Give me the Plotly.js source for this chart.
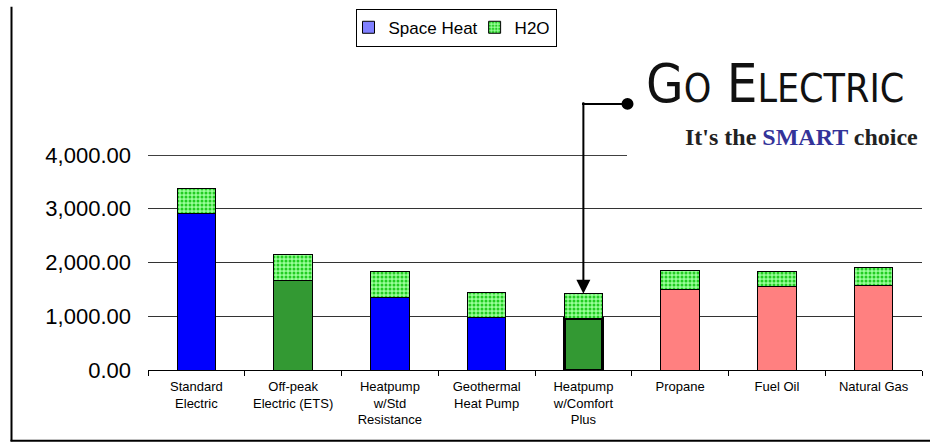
<!DOCTYPE html>
<html>
<head>
<meta charset="utf-8">
<script src="https://cdn.plot.ly/plotly-3.0.1.min.js"></script>
<style>html,body{margin:0;padding:0;background:#fff;}#chart{width:930px;height:444px;}</style>
</head>
<body>
<div id="chart"></div>
<script>
// ---- data ----
var categories = [
  "Standard<br>Electric",
  "Off-peak<br>Electric (ETS)",
  "Heatpump<br>w/Std<br>Resistance",
  "Geothermal<br>Heat Pump",
  "Heatpump<br>w/Comfort<br>Plus",
  "Propane",
  "Fuel Oil",
  "Natural Gas"
];
var spaceHeat = [2920, 1660, 1350, 985, 962, 1502, 1551, 1575];
var h2o       = [456, 481, 488, 457, 456, 354, 287, 323];
var barColors = ["#0000FF", "#339933", "#0000FF", "#0000FF", "#339933", "#FF8080", "#FF8080", "#FF8080"];
var barLineWidths = [1, 1, 1, 1, 3, 1, 1, 1];
var yTicks = [0, 1000, 2000, 3000, 4000];
var highlightIndex = 4;

// ---- layout geometry (pixels) ----
var W = 930, H = 444;
var L = 148, R = 8, T = 151, B = 74;
var pw = W - L - R, ph = H - T - B;
function px(x) { return (x - L) / pw; }
function py(y) { return (H - B - y) / ph; }

var traces = [
  { type: "bar", name: "Space Heat", x: [categories[0]], y: [null],
    marker: { color: "#8080FF", line: { color: "#000", width: 1 } },
    showlegend: true, hoverinfo: "skip" },
  { type: "bar", name: "Space Heat", x: categories, y: spaceHeat,
    marker: { color: barColors, line: { color: "#000", width: barLineWidths } },
    showlegend: false, hoverinfo: "skip" },
  { type: "bar", name: "H2O", x: categories, y: h2o,
    marker: { color: "#77FF77", line: { color: "#000", width: 1 },
      pattern: { shape: ".", fgcolor: "#22CC22", bgcolor: "#99FF99", size: 4, solidity: 0.45 } },
    showlegend: true, hoverinfo: "skip" }
];

var total5 = spaceHeat[highlightIndex] + h2o[highlightIndex];

var layout = {
  width: W, height: H,
  margin: { l: L, r: R, t: T, b: B, pad: 0 },
  paper_bgcolor: "#fff", plot_bgcolor: "#fff",
  barmode: "stack", bargap: 0.6,
  showlegend: true,
  legend: {
    orientation: "h", traceorder: "normal",
    x: px(456), xanchor: "center", y: py(2), yanchor: "top",
    bordercolor: "#000", borderwidth: 1, bgcolor: "#fff",
    font: { family: "Arial, Liberation Sans, sans-serif", size: 17, color: "#000" },
    itemwidth: 30, tracegroupgap: 0, indentation: -8
  },
  xaxis: {
    type: "category", showgrid: false, zeroline: false,
    showline: true, linecolor: "#000", linewidth: 1,
    ticks: "outside", tickson: "boundaries", ticklen: 5, tickcolor: "#000",
    ticklabelstandoff: 4,
    tickfont: { family: "Liberation Sans Narrow, Arial Narrow, Arial, sans-serif", size: 13, color: "#000" },
    fixedrange: true
  },
  yaxis: {
    range: [0, 4000], tickvals: yTicks, tickformat: ",.2f",
    showgrid: true, gridcolor: "#333", gridwidth: 1,
    zeroline: false, showline: false, ticks: "",
    ticklabelstandoff: 16,
    tickfont: { family: "Arial, Liberation Sans, sans-serif", size: 22, color: "#000" },
    fixedrange: true
  },
  shapes: [
    // top gridline (edge of range)
    { type: "line", xref: "paper", yref: "y", x0: 0, x1: 1, y0: yTicks[yTicks.length - 1], y1: yTicks[yTicks.length - 1],
      line: { color: "#000", width: 1.3 }, layer: "below" },
    // outer border (left and bottom)
    { type: "line", xref: "paper", yref: "paper", x0: px(11.5), x1: px(11.5), y0: py(0), y1: py(442.5),
      line: { color: "#000", width: 2 } },
    { type: "line", xref: "paper", yref: "paper", x0: px(10.5), x1: px(930), y0: py(442), y1: py(442),
      line: { color: "#000", width: 2 } },
    // logo white backdrop
    { type: "rect", xref: "paper", yref: "paper", x0: px(627), x1: px(930), y0: py(42), y1: py(158),
      fillcolor: "#fff", line: { width: 0 }, layer: "above" },
    // arrow elbow horizontal segment
    { type: "line", xref: "paper", yref: "paper", x0: px(582), x1: px(627), y0: py(99), y1: py(99),
      line: { color: "#000", width: 2 }, layer: "above" },
    // dot
    { type: "circle", xref: "paper", yref: "paper", x0: px(621.5), x1: px(633.5), y0: py(93), y1: py(105),
      fillcolor: "#000", line: { color: "#000", width: 0 }, layer: "above" }
  ],
  annotations: [
    { x: categories[highlightIndex], y: total5, xref: "x", yref: "y",
      ax: 0, ay: -193, axref: "pixel", ayref: "pixel",
      text: "", showarrow: true, arrowhead: 2, arrowsize: 1.4, arrowwidth: 2, arrowcolor: "#000", standoff: 0 },
    { xref: "paper", yref: "paper", x: px(775), y: py(78), xanchor: "center", yanchor: "middle",
      showarrow: false,
      text: "G<span style='font-size:39px'>O</span> E<span style='font-size:39px'>LECTRIC</span>",
      font: { family: "DejaVu Sans Condensed, DejaVu Sans, sans-serif", size: 54, color: "#111" } },
    { xref: "paper", yref: "paper", x: px(801), y: py(133), xanchor: "center", yanchor: "middle",
      showarrow: false,
      text: "<b>It's the <span style='color:#333399'>SMART</span> choice</b>",
      font: { family: "Liberation Serif, Times New Roman, serif", size: 24, color: "#222" } }
  ]
};

Plotly.newPlot("chart", traces, layout, { displayModeBar: false, staticPlot: true });
</script>
</body>
</html>
